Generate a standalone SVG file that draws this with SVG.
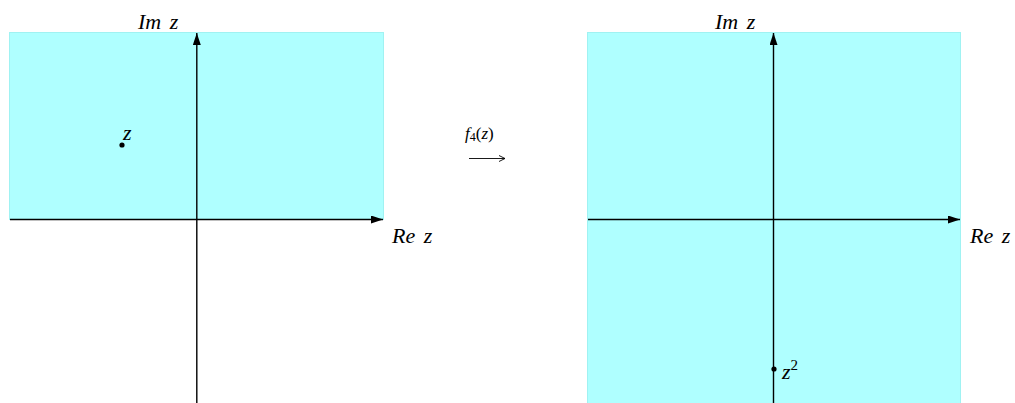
<svg xmlns="http://www.w3.org/2000/svg" width="1015" height="403" viewBox="0 0 1015 403">
<style>
.plane{fill:#afffff;stroke:#a0f2f2;stroke-width:1}
.axis{stroke:#000;stroke-width:1.4;fill:none}
.lbl{font-family:"Liberation Serif",serif;font-style:italic;font-size:22px;fill:#000;word-spacing:3px}
.sm{font-family:"Liberation Serif",serif;font-size:17px;fill:#000}
</style>
<defs>
<marker id="ah" viewBox="0 0 12 8" refX="12" refY="4" markerWidth="12" markerHeight="8" markerUnits="userSpaceOnUse" orient="auto">
<path d="M0,0 L12,4 L0,8 Z" fill="#000"/>
</marker>
<marker id="ah2" viewBox="0 0 8 8" refX="7" refY="4" markerWidth="8" markerHeight="8" markerUnits="userSpaceOnUse" orient="auto">
<path d="M1,1 L7,4 L1,7" fill="none" stroke="#000" stroke-width="0.9"/>
</marker>
</defs>
<g id="left-plane">
<rect class="plane" x="9.5" y="32.5" width="374" height="187"/>
</g>
<g id="right-plane">
<rect class="plane" x="587.5" y="32.5" width="373" height="372"/>
</g>
<g id="connectors">
<line class="axis" x1="10" y1="219.5" x2="383" y2="219.5" marker-end="url(#ah)"/>
<line class="axis" x1="196.8" y1="403" x2="196.8" y2="33" marker-end="url(#ah)"/>
<line class="axis" x1="588" y1="219.5" x2="960" y2="219.5" marker-end="url(#ah)"/>
<line class="axis" x1="773.5" y1="403" x2="773.5" y2="33" marker-end="url(#ah)"/>
<line x1="469" y1="158.5" x2="505" y2="158.5" stroke="#000" stroke-width="0.9" marker-end="url(#ah2)"/>
</g>
<g id="left-labels">
<text class="lbl" x="138" y="29">Im z</text>
<text class="lbl" x="392" y="243">Re z</text>
</g>
<g id="point-z">
<circle cx="122" cy="145" r="2.6" fill="#000"/>
<text class="lbl" x="123" y="140">z</text>
</g>
<g id="map-label">
<text class="sm" x="465" y="139"><tspan font-style="italic">f</tspan><tspan font-size="12" dy="2">4</tspan><tspan dy="-2">(</tspan><tspan font-style="italic">z</tspan>)</text>
</g>
<g id="right-labels">
<text class="lbl" x="715" y="29">Im z</text>
<text class="lbl" x="970" y="243">Re z</text>
</g>
<g id="point-z2">
<circle cx="774" cy="369" r="2.6" fill="#000"/>
<text class="lbl" x="782" y="379">z<tspan font-style="normal" font-size="15" dy="-9">2</tspan></text>
</g>
</svg>
